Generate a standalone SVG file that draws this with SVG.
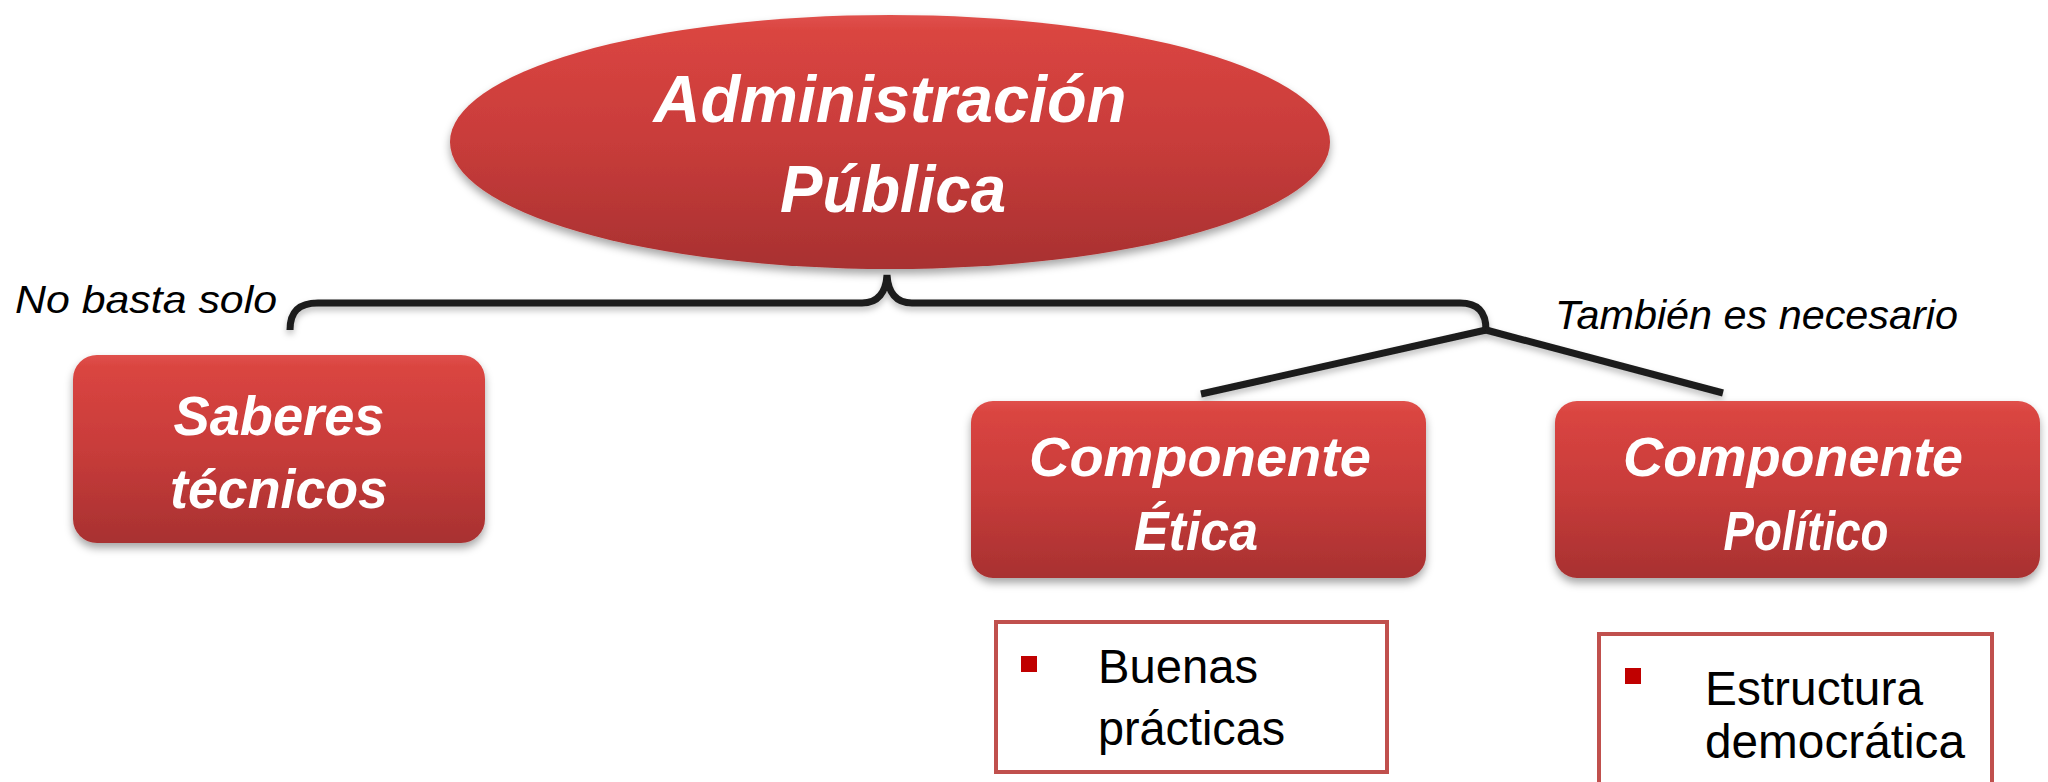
<svg xmlns="http://www.w3.org/2000/svg" width="2048" height="782" viewBox="0 0 2048 782">
  <defs>
    <linearGradient id="redGrad" x1="0" y1="0" x2="0" y2="1">
      <stop offset="0" stop-color="#E0514C"/>
      <stop offset="0.06" stop-color="#DA4541"/>
      <stop offset="0.5" stop-color="#C83C3A"/>
      <stop offset="1" stop-color="#A83131"/>
    </linearGradient>
    <filter id="shadow" x="-10%" y="-10%" width="120%" height="130%">
      <feDropShadow dx="0" dy="5" stdDeviation="4" flood-color="#000" flood-opacity="0.35"/>
    </filter>
    <filter id="lineShadow" x="-5%" y="-20%" width="110%" height="160%">
      <feDropShadow dx="0" dy="4" stdDeviation="3" flood-color="#000" flood-opacity="0.25"/>
    </filter>
    <style>
      .node { fill: url(#redGrad); filter: url(#shadow); }
      .ntext { font-family: "Liberation Sans", Arial, sans-serif; font-weight: bold; font-style: italic; fill: #FFFFFF; text-anchor: middle; }
      .label { font-family: "Liberation Sans", Arial, sans-serif; font-style: italic; fill: #000000; }
      .conn { fill: none; stroke: #1C1C1C; stroke-width: 7; filter: url(#lineShadow); }
      .listbox { fill: #FFFFFF; stroke: #C0504D; stroke-width: 4; }
      .bullet { fill: #C00000; }
      .ltext { font-family: "Liberation Sans", Arial, sans-serif; font-size: 48px; fill: #000000; }
    </style>
  </defs>
  <rect width="2048" height="782" fill="#FFFFFF"/>

  <g id="connectors">
    <path class="conn" d="M 290 330 C 290 312, 298 303, 318 303 L 862 303 C 878 303, 886 292, 887 275 C 888 292, 896 303, 912 303 L 1460 303 C 1478 303, 1486 312, 1486 330"/>
    <path class="conn" d="M 1486 330 L 1201 394"/>
    <path class="conn" d="M 1486 330 L 1723 393"/>
  </g>

  <g id="node-admin">
    <ellipse class="node" cx="890" cy="142" rx="440" ry="127"/>
    <text class="ntext" font-size="66" x="890" y="122" textLength="473" lengthAdjust="spacingAndGlyphs">Administración</text>
    <text class="ntext" font-size="66" x="893" y="212" textLength="226" lengthAdjust="spacingAndGlyphs">Pública</text>
  </g>

  <g id="label-nobasta">
    <text class="label" font-size="39" x="15" y="313" textLength="262" lengthAdjust="spacingAndGlyphs">No basta solo</text>
  </g>

  <g id="label-tambien">
    <text class="label" font-size="40" x="1555" y="329" textLength="403" lengthAdjust="spacingAndGlyphs">También es necesario</text>
  </g>

  <g id="node-saberes">
    <rect class="node" x="73" y="355" width="412" height="188" rx="24"/>
    <text class="ntext" font-size="56" x="279" y="435" textLength="211" lengthAdjust="spacingAndGlyphs">Saberes</text>
    <text class="ntext" font-size="56" x="279" y="508" textLength="218" lengthAdjust="spacingAndGlyphs">técnicos</text>
  </g>

  <g id="node-etica">
    <rect class="node" x="971" y="401" width="455" height="177" rx="22"/>
    <text class="ntext" font-size="56" x="1200" y="476" textLength="342" lengthAdjust="spacingAndGlyphs">Componente</text>
    <text class="ntext" font-size="56" x="1196" y="550" textLength="124" lengthAdjust="spacingAndGlyphs">Ética</text>
  </g>

  <g id="node-politico">
    <rect class="node" x="1555" y="401" width="485" height="177" rx="22"/>
    <text class="ntext" font-size="56" x="1793" y="476" textLength="340" lengthAdjust="spacingAndGlyphs">Componente</text>
    <text class="ntext" font-size="56" x="1806" y="550" textLength="165" lengthAdjust="spacingAndGlyphs">Político</text>
  </g>

  <g id="list-etica">
    <rect class="listbox" x="996" y="622" width="391" height="150"/>
    <rect class="bullet" x="1021" y="656" width="16" height="16"/>
    <text class="ltext" x="1098" y="683" textLength="160" lengthAdjust="spacingAndGlyphs">Buenas</text>
    <text class="ltext" x="1098" y="745" textLength="187" lengthAdjust="spacingAndGlyphs">prácticas</text>
  </g>

  <g id="list-politico">
    <rect class="listbox" x="1599" y="634" width="393" height="160"/>
    <rect class="bullet" x="1625" y="668" width="16" height="16"/>
    <text class="ltext" x="1705" y="705" textLength="218" lengthAdjust="spacingAndGlyphs">Estructura</text>
    <text class="ltext" x="1705" y="758" textLength="260" lengthAdjust="spacingAndGlyphs">democrática</text>
  </g>
</svg>
